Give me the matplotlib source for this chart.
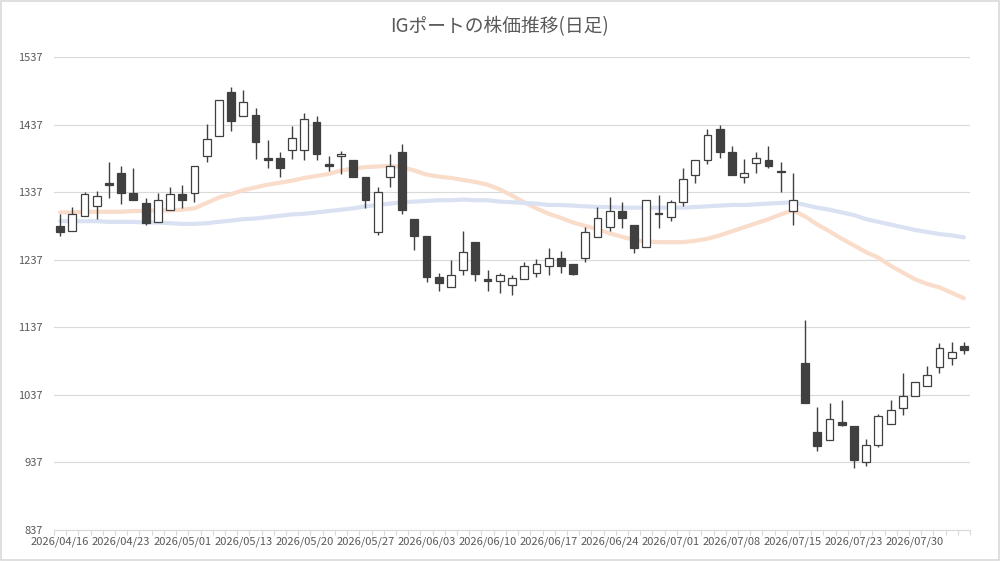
"""
IG Port daily candlestick chart with two moving averages.
Saves out.png (1000x561).
"""

import matplotlib.pyplot as plt
from matplotlib.patches import Rectangle
import numpy as np

plt.rcParams["font.family"] = ["Noto Sans CJK JP", "DejaVu Sans"]

TEXT_COLOR = "#595959"
GRID_COLOR = "#d9d9d9"
CANDLE_EDGE = "#404040"

# trading days
DATES = [
    "2026/04/16", "2026/04/17", "2026/04/20", "2026/04/21", "2026/04/22",
    "2026/04/23", "2026/04/24", "2026/04/27", "2026/04/28", "2026/04/30",
    "2026/05/01", "2026/05/07", "2026/05/08", "2026/05/11", "2026/05/12",
    "2026/05/13", "2026/05/14", "2026/05/15", "2026/05/18", "2026/05/19",
    "2026/05/20", "2026/05/21", "2026/05/22", "2026/05/25", "2026/05/26",
    "2026/05/27", "2026/05/28", "2026/05/29", "2026/06/01", "2026/06/02",
    "2026/06/03", "2026/06/04", "2026/06/05", "2026/06/08", "2026/06/09",
    "2026/06/10", "2026/06/11", "2026/06/12", "2026/06/15", "2026/06/16",
    "2026/06/17", "2026/06/18", "2026/06/19", "2026/06/22", "2026/06/23",
    "2026/06/24", "2026/06/25", "2026/06/26", "2026/06/29", "2026/06/30",
    "2026/07/01", "2026/07/02", "2026/07/03", "2026/07/06", "2026/07/07",
    "2026/07/08", "2026/07/09", "2026/07/10", "2026/07/13", "2026/07/14",
    "2026/07/15", "2026/07/16", "2026/07/17", "2026/07/21", "2026/07/22",
    "2026/07/23", "2026/07/24", "2026/07/27", "2026/07/28", "2026/07/29",
    "2026/07/30", "2026/07/31", "2026/08/03", "2026/08/04", "2026/08/05",
]

OPEN = [
    1287, 1280, 1302, 1316, 1350, 1365, 1335, 1321, 1293, 1310,
    1334, 1335, 1390, 1420, 1485, 1450, 1451, 1387, 1387, 1400,
    1400, 1441, 1379, 1390, 1384, 1360, 1278, 1360, 1396, 1297,
    1272, 1212, 1197, 1222, 1263, 1208, 1206, 1200, 1209, 1218,
    1227, 1240, 1231, 1240, 1271, 1285, 1309, 1288, 1256, 1306,
    1300, 1322, 1363, 1384, 1431, 1396, 1360, 1380, 1384, 1369,
    1309, 1084, 982, 970, 997, 991, 938, 963, 994, 1017,
    1035, 1050, 1078, 1091, 1109,
]
HIGH = [
    1304, 1315, 1337, 1338, 1381, 1376, 1372, 1328, 1335, 1344,
    1347, 1375, 1438, 1473, 1493, 1488, 1461, 1414, 1397, 1435,
    1454, 1449, 1390, 1398, 1384, 1360, 1345, 1394, 1408, 1297,
    1272, 1218, 1237, 1280, 1263, 1222, 1218, 1214, 1234, 1238,
    1254, 1250, 1231, 1285, 1315, 1330, 1322, 1288, 1325, 1333,
    1326, 1373, 1384, 1431, 1436, 1405, 1386, 1396, 1405, 1381,
    1365, 1148, 1019, 1025, 1030, 991, 972, 1009, 1029, 1069,
    1056, 1079, 1113, 1115, 1115,
]
LOW = [
    1272, 1280, 1302, 1297, 1329, 1319, 1325, 1288, 1293, 1310,
    1313, 1322, 1382, 1420, 1427, 1450, 1386, 1373, 1360, 1386,
    1384, 1385, 1368, 1364, 1360, 1314, 1273, 1344, 1305, 1251,
    1204, 1191, 1197, 1214, 1206, 1191, 1188, 1185, 1209, 1211,
    1214, 1217, 1214, 1234, 1271, 1279, 1284, 1247, 1256, 1284,
    1294, 1316, 1350, 1378, 1388, 1363, 1350, 1366, 1373, 1337,
    1288, 1025, 954, 970, 991, 929, 932, 960, 994, 1007,
    1035, 1050, 1069, 1081, 1098,
]
CLOSE = [
    1278, 1305, 1334, 1332, 1347, 1335, 1325, 1291, 1325, 1334,
    1325, 1375, 1416, 1473, 1442, 1470, 1411, 1385, 1373, 1417,
    1445, 1394, 1375, 1394, 1360, 1325, 1337, 1375, 1310, 1272,
    1212, 1202, 1215, 1249, 1216, 1206, 1215, 1210, 1228, 1230,
    1240, 1227, 1216, 1278, 1299, 1309, 1299, 1255, 1325, 1305,
    1322, 1356, 1384, 1421, 1396, 1363, 1366, 1388, 1375, 1367,
    1325, 1025, 961, 1001, 992, 940, 963, 1006, 1015, 1035,
    1056, 1066, 1106, 1100, 1103,
]

# moving averages as drawn (short = orange, long = blue)
MA_SHORT = [
    1307, 1307, 1308, 1308, 1308, 1308, 1309, 1309, 1310, 1310,
    1311, 1313, 1321, 1329, 1334, 1340, 1344, 1348, 1351, 1354,
    1358, 1361, 1364, 1369, 1372, 1374, 1375, 1376, 1374, 1369,
    1363, 1360, 1358, 1355, 1352, 1348, 1341, 1332, 1322, 1313,
    1305, 1299, 1292, 1287, 1282, 1276, 1271, 1266, 1264, 1263,
    1263, 1263, 1265, 1268, 1273, 1279, 1285, 1291, 1297, 1304,
    1310, 1301, 1289, 1279, 1268, 1258, 1248, 1240, 1228, 1218,
    1208, 1201, 1196, 1188, 1180,
]
MA_LONG = [
    1294, 1294, 1294, 1294, 1293, 1293, 1293, 1292, 1292, 1291,
    1290, 1290, 1291, 1293, 1295, 1297, 1298, 1300, 1302, 1304,
    1305, 1307, 1309, 1311, 1313, 1316, 1318, 1320, 1322, 1323,
    1324, 1325, 1325, 1326, 1325, 1325, 1323, 1322, 1321, 1320,
    1318, 1318, 1317, 1316, 1315, 1315, 1314, 1314, 1314, 1314,
    1314, 1314, 1315, 1316, 1317, 1318, 1318, 1319, 1320, 1321,
    1322, 1318, 1314, 1311, 1307, 1303, 1297, 1293, 1289, 1285,
    1281, 1278, 1275, 1273, 1270,
]

Y_TICKS = [837, 937, 1037, 1137, 1237, 1337, 1437, 1537]
TITLE = "IGポートの株価推移(日足)"


def plot_candles():
    fig = plt.figure(figsize=(10, 5.61), dpi=100)
    ax = fig.add_axes([0.054, 0.0553, 0.916, 0.8431])

    x = np.arange(len(DATES))
    o, h, l, c = map(np.array, (OPEN, HIGH, LOW, CLOSE))

    # moving averages under the candles
    ax.plot(x, MA_SHORT, color="#fadcca", lw=3.0, solid_capstyle="round", zorder=2)
    ax.plot(x, MA_LONG, color="#d9e1f3", lw=3.0, solid_capstyle="round", zorder=2)

    # wicks
    ax.vlines(x, l, h, color=CANDLE_EDGE, lw=1.0, zorder=3)

    # bodies
    up = c >= o
    bottom = np.minimum(o, c)
    height = np.maximum(np.abs(c - o), 1.5)
    ax.bar(x, height, bottom=bottom, width=0.64,
           color=np.where(up, "white", CANDLE_EDGE),
           edgecolor=CANDLE_EDGE, linewidth=0.9, zorder=4)

    ax.set_xlim(-0.5, len(DATES) - 0.5)
    ax.set_ylim(Y_TICKS[0], Y_TICKS[-1])

    ax.set_yticks(Y_TICKS)
    ax.set_yticklabels([str(v) for v in Y_TICKS])
    ax.grid(axis="y", color=GRID_COLOR, lw=0.8)
    ax.set_axisbelow(True)

    major = x[::5]
    ax.set_xticks(major)
    ax.set_xticklabels([DATES[i] for i in major])
    ax.set_xticks(np.arange(-0.5, len(DATES), 1.0), minor=True)

    ax.tick_params(axis="y", length=0, pad=8, labelsize=8, labelcolor=TEXT_COLOR)
    ax.tick_params(axis="x", which="major", length=0, pad=5,
                   labelsize=8, labelcolor=TEXT_COLOR)
    ax.tick_params(axis="x", which="minor", length=3.5, width=0.8, color=GRID_COLOR)

    for side in ("top", "right", "left"):
        ax.spines[side].set_visible(False)
    ax.spines["bottom"].set_color(GRID_COLOR)
    ax.spines["bottom"].set_linewidth(0.8)

    fig.text(0.5, 0.952, TITLE, ha="center", va="center",
             fontsize=13.5, color=TEXT_COLOR)

    # outer chart border
    fig.patches.append(Rectangle((0.0005, 0.001), 0.998, 0.997, transform=fig.transFigure,
                                 fill=False, edgecolor=GRID_COLOR, lw=1.2))

    fig.savefig("out.png", dpi=100)
    plt.close(fig)


if __name__ == "__main__":
    plot_candles()
